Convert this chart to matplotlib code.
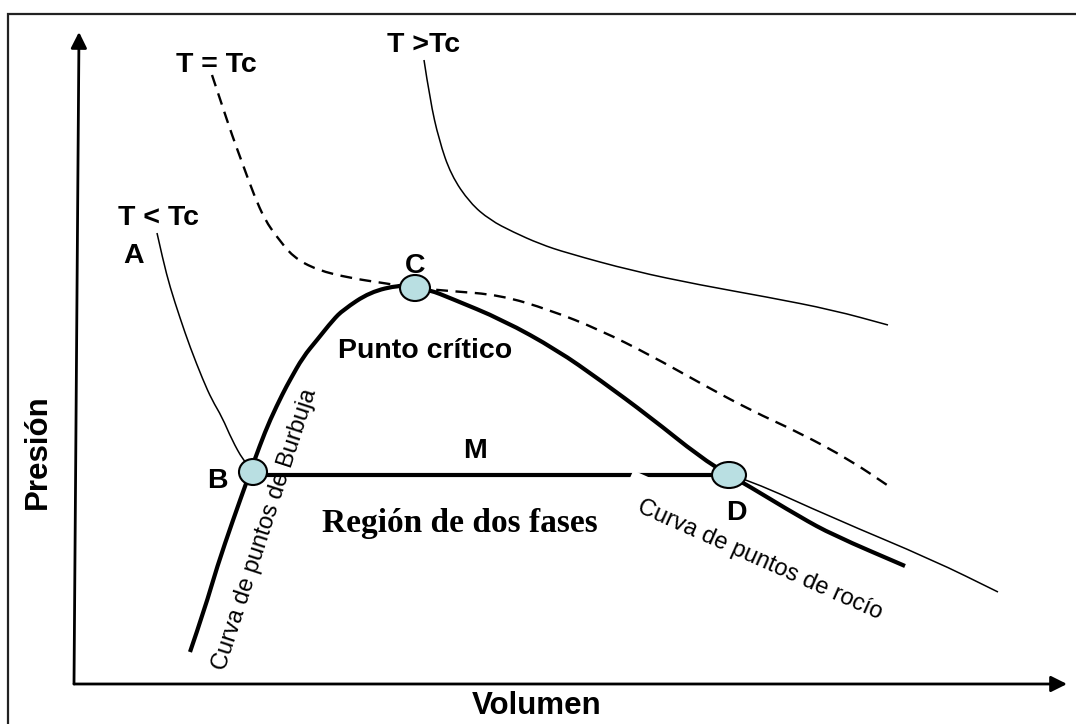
import matplotlib.pyplot as plt
from matplotlib.patches import Ellipse, Rectangle, PathPatch
from matplotlib.path import Path

# Diagrama P-V esquematico. Unidades arbitrarias: origen en el cruce de ejes.
# curva de puntos de burbuja (B .. C)
burbuja_v = [116, 131, 143, 159, 174, 186, 196, 209, 216, 229, 243, 259, 269, 296, 326, 341]
burbuja_p = [32, 76, 117, 164, 206, 239, 264, 291, 304, 327, 344, 364, 374, 392, 399, 397]

# curva de puntos de rocio (C .. D .. )
rocio_v = [341, 356, 376, 429, 483, 526, 576, 626, 655, 673, 726, 759, 831]
rocio_p = [397, 394, 386, 364, 334, 304, 267, 227, 209, 199, 167, 149, 118]

# isoterma T < Tc: A -> B, B -> D (dos fases), D -> gas
t_menor_v = [83, 89, 96, 106, 116, 129, 138, 148, 158, 169, 179]
t_menor_p = [451, 424, 397, 366, 337, 304, 284, 267, 244, 224, 213]
t_menor_gas_v = [655, 673, 759, 859, 924]
t_menor_gas_p = [209, 205, 166, 124, 92]
linea_bd_v = [179, 655]
linea_bd_p = [209, 209]

# isoterma critica T = Tc
t_critica_v = [138, 148, 158, 169, 180, 191, 203, 219, 243, 276, 309, 341, 376, 426,
               476, 526, 576, 626, 676, 726, 776, 816]
t_critica_p = [609, 579, 549, 519, 489, 464, 447, 427, 414, 406, 401, 396, 393, 389,
               374, 354, 329, 301, 274, 251, 224, 197]

# isoterma T > Tc
t_mayor_v = [350, 356, 365, 377, 396, 416, 439, 466, 493, 559, 626, 693, 759, 814]
t_mayor_p = [624, 584, 544, 509, 481, 464, 452, 440, 431, 413, 399, 387, 374, 359]

# puntos B, C, D
puntos = ["B", "C", "D"]
puntos_v = [179, 341, 655]
puntos_p = [212, 396, 209]
puntos_ancho = [28, 30, 34]


def curva(ax, v, p, **kw):
    """Dibuja la curva suavizada (bezier cuadratica sobre los puntos leidos)."""
    pts = list(zip(v, p))
    verts = [pts[0]]
    codes = [Path.MOVETO]
    for i in range(1, len(pts) - 1):
        mid = ((pts[i][0] + pts[i + 1][0]) / 2, (pts[i][1] + pts[i + 1][1]) / 2)
        verts += [pts[i], mid]
        codes += [Path.CURVE3, Path.CURVE3]
    verts.append(pts[-1])
    codes.append(Path.LINETO)
    ax.add_patch(PathPatch(Path(verts, codes), fill=False, edgecolor="black", **kw))


fig = plt.figure(figsize=(10.76, 7.24), dpi=100)
ax = fig.add_axes([0, 0, 1, 1])
ax.set_xlim(-74, 1002)
ax.set_ylim(-40, 684)
ax.axis("off")

sans = "Liberation Sans"
serif = "Liberation Serif"

# marco
ax.add_patch(Rectangle((-66, -100), 1200, 770, fill=False, edgecolor="#222222", lw=1.6))

# ejes con flechas
ax.annotate("", xy=(5, 652), xytext=(0, 0),
            arrowprops=dict(arrowstyle="-|>", color="black", lw=2, mutation_scale=24,
                            shrinkA=0, shrinkB=0))
ax.annotate("", xy=(993, 0), xytext=(0, 0),
            arrowprops=dict(arrowstyle="-|>", color="black", lw=2, mutation_scale=24,
                            shrinkA=0, shrinkB=0))

ax.plot(linea_bd_v, linea_bd_p, color="black", lw=3, solid_capstyle="butt", zorder=1)
curva(ax, burbuja_v, burbuja_p, lw=3, zorder=3)
curva(ax, rocio_v, rocio_p, lw=3, zorder=3)
curva(ax, t_menor_v, t_menor_p, lw=1.1, zorder=3)
curva(ax, t_menor_gas_v, t_menor_gas_p, lw=1.1, zorder=3)
curva(ax, t_critica_v, t_critica_p, lw=1.7, linestyle=(0, (5, 3.2)), zorder=3)
curva(ax, t_mayor_v, t_mayor_p, lw=1.1, zorder=3)

for v, p, w in zip(puntos_v, puntos_p, puntos_ancho):
    ax.add_patch(Ellipse((v, p), w, 26, facecolor="#b9dfe2", edgecolor="black",
                         lw=1.5, zorder=4))

etiquetas = [
    ("T = Tc", 142, 612), ("T >Tc", 350, 632), ("T < Tc", 84, 459),
    ("A", 60, 421), ("C", 341, 411), ("Punto crítico", 351, 326),
    ("B", 143, 196), ("M", 401, 226), ("D", 662, 164),
]
for txt, v, p in etiquetas:
    ax.text(v, p, txt, family=sans, weight="bold", fontsize=20.5,
            ha="center", va="baseline", zorder=5)

ax.text(386, 152, "Región de dos fases", family=serif, weight="bold", fontsize=24,
        ha="center", va="baseline", zorder=5)

ax.text(686, 124, "Curva de puntos de rocío", family=sans, fontsize=17, rotation=-24,
        rotation_mode="anchor", ha="center", va="center", zorder=2,
        bbox=dict(facecolor="white", edgecolor="none", pad=14))
ax.text(191, 154, "Curva de puntos de Burbuja", family=sans, fontsize=17, rotation=72,
        rotation_mode="anchor", ha="center", va="center", zorder=5)

ax.text(-36, 232, "Presión", family=sans, weight="bold", fontsize=22.5, rotation=90,
        ha="center", va="center")
ax.text(463, -30, "Volumen", family=sans, weight="bold", fontsize=22.5,
        ha="center", va="baseline")

fig.savefig("out.png", dpi=100)
